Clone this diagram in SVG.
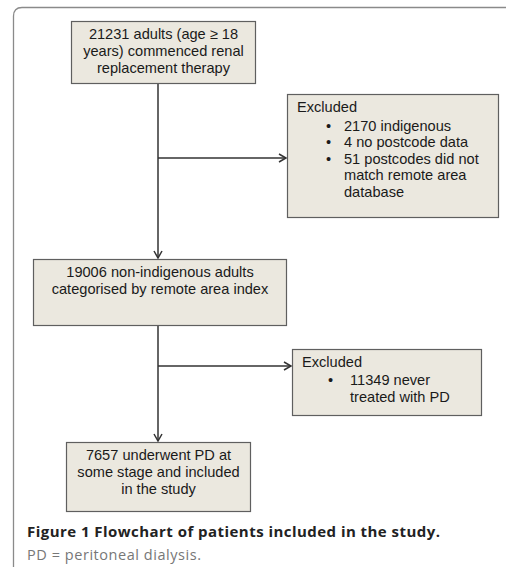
<svg xmlns="http://www.w3.org/2000/svg" width="506" height="567" viewBox="0 0 506 567">
<defs>
<style>
.box{fill:#ebe8df;stroke:#5f5f5f;stroke-width:1.2}
.t{font-family:"Liberation Sans",Arial,sans-serif;font-size:14.6px;fill:#1a1a1a}
.c{text-anchor:middle}
.ln{stroke:#333;stroke-width:1.5;fill:none}
.cap{font-family:"Open Sans","DejaVu Sans",sans-serif}
</style>
<marker id="ah" markerWidth="10" markerHeight="10" refX="8" refY="5" orient="auto" markerUnits="userSpaceOnUse">
<path d="M1,1 L8,5 L1,9" fill="none" stroke="#333" stroke-width="1.5"/>
</marker>
</defs>
<rect width="506" height="567" fill="#fff"/>
<path d="M13.5,567 V16 Q13.5,7.5 22,7.5 H506" fill="none" stroke="#8a8a8a" stroke-width="1.3"/>
<g id="connectors">
<line class="ln" x1="158" y1="83" x2="158" y2="258" marker-end="url(#ah)"/>
<line class="ln" x1="158" y1="158" x2="286" y2="158" marker-end="url(#ah)"/>
<line class="ln" x1="158" y1="326" x2="158" y2="441" marker-end="url(#ah)"/>
<line class="ln" x1="158" y1="366" x2="291" y2="366" marker-end="url(#ah)"/>
</g>
<g id="n1">
<rect class="box" x="71.5" y="21.5" width="184" height="62"/>
<text class="t c" x="163.5" y="39">21231 adults (age ≥ 18</text>
<text class="t c" x="163.5" y="56">years) commenced renal</text>
<text class="t c" x="163.5" y="73">replacement therapy</text>
</g>
<g id="n2">
<rect class="box" x="287.5" y="94.5" width="211" height="123"/>
<text class="t" x="297" y="112">Excluded</text>
<text class="t" x="326" y="131">•</text>
<text class="t" x="344" y="131">2170 indigenous</text>
<text class="t" x="326" y="147">•</text>
<text class="t" x="344" y="147">4 no postcode data</text>
<text class="t" x="326" y="164">•</text>
<text class="t" x="344" y="164">51 postcodes did not</text>
<text class="t" x="344" y="180">match remote area</text>
<text class="t" x="344" y="197">database</text>
</g>
<g id="n3">
<rect class="box" x="33.5" y="259.5" width="253" height="66"/>
<text class="t c" x="160" y="277">19006 non-indigenous adults</text>
<text class="t c" x="160" y="294">categorised by remote area index</text>
</g>
<g id="n4">
<rect class="box" x="292.5" y="349.5" width="189" height="66"/>
<text class="t" x="302" y="367">Excluded</text>
<text class="t" x="328" y="385">•</text>
<text class="t" x="350" y="385">11349 never</text>
<text class="t" x="350" y="402">treated with PD</text>
</g>
<g id="n5">
<rect class="box" x="66.5" y="442.5" width="184" height="69"/>
<text class="t c" x="158.5" y="460">7657 underwent PD at</text>
<text class="t c" x="158.5" y="477">some stage and included</text>
<text class="t c" x="158.5" y="494">in the study</text>
</g>
<text class="cap" x="27" y="537" font-size="15" font-weight="bold" fill="#222" textLength="413" lengthAdjust="spacing">Figure 1 Flowchart of patients included in the study.</text>
<text class="cap" x="27" y="560" font-size="14.5" fill="#777" textLength="174" lengthAdjust="spacing">PD = peritoneal dialysis.</text>
</svg>
